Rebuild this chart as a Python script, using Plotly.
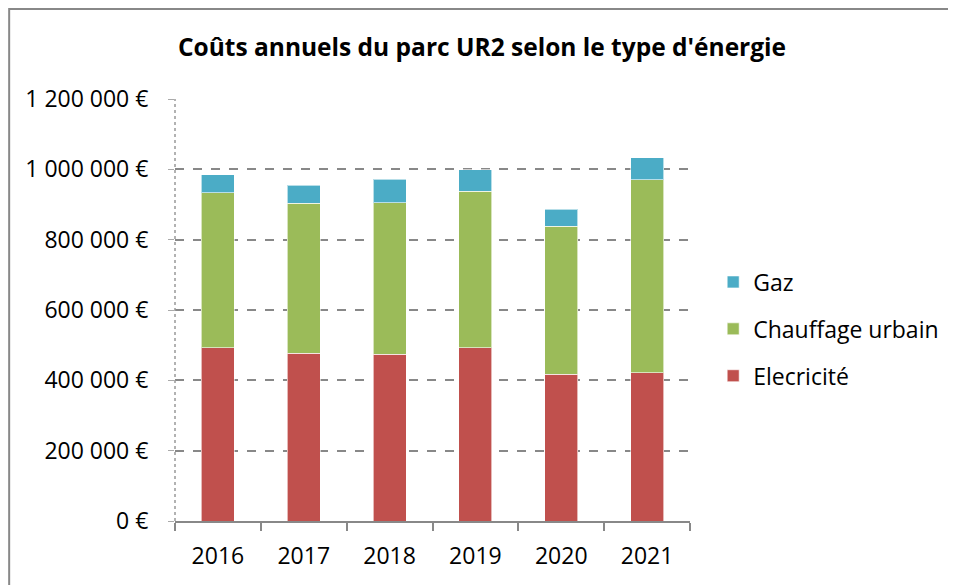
import plotly.graph_objects as go

# annual costs per energy type (EUR)
years = ['2016', '2017', '2018', '2019', '2020', '2021']
electricite = [492000, 477000, 474000, 492000, 418000, 422000]
chauffage = [442000, 426000, 431000, 445000, 420000, 549000]
gaz = [51000, 52000, 67000, 62000, 48000, 62000]

ytick_vals = [0, 200000, 400000, 600000, 800000, 1000000, 1200000]
ytick_text = ['0 €', '200 000 €', '400 000 €', '600 000 €', '800 000 €', '1 000 000 €', '1 200 000 €']

font = 'Open Sans, Carlito, Calibri, sans-serif'
edge = dict(width=1, color='rgba(255,255,255,0.6)')

fig = go.Figure()
fig.add_trace(go.Bar(x=years, y=electricite, name='Elecricité', marker=dict(color='#C0504D', line=edge),
                     legendgroup='e', legendrank=3))
fig.add_trace(go.Bar(x=years, y=chauffage, name='Chauffage urbain', marker=dict(color='#9BBB59', line=edge),
                     legendgroup='c', legendrank=2))
fig.add_trace(go.Bar(x=years, y=gaz, name='Gaz', marker=dict(color='#4BACC6', line=edge),
                     legendgroup='g', legendrank=1))

# outer chart border (page is offset by the 8px body margin)
fig.add_shape(type='rect', xref='paper', yref='paper', x0=-0.322, x1=1.8, y0=-0.3, y1=1.213,
              line=dict(color='#888888', width=2), layer='below')
# dotted value axis line
fig.add_shape(type='line', xref='paper', yref='y', x0=0, x1=0, y0=0, y1=1200000,
              line=dict(color='#999999', width=1.5, dash='dot'))

fig.update_layout(
    width=948, height=577,
    margin=dict(l=167, r=266, t=91, b=64),
    paper_bgcolor='white', plot_bgcolor='white',
    barmode='stack', bargap=0.615,
    font=dict(family=font, size=23, color='black'),
    title=dict(text="<b>Coûts annuels du parc UR2 selon le type d'énergie</b>",
               x=0.5, xanchor='center', xref='container', y=0.931, yanchor='middle',
               font=dict(family=font, size=24.5, color='black')),
    legend=dict(x=1.045, y=0.455, xanchor='left', yanchor='middle',
                traceorder='grouped', tracegroupgap=14,
                font=dict(family=font, size=23, color='black')),
    xaxis=dict(range=[-0.5, 5.5], showline=True, linecolor='#888888', linewidth=2,
               ticks='outside', tickson='boundaries', ticklen=8, tickcolor='#888888', tickwidth=2,
               showgrid=False, ticklabelstandoff=13),
    yaxis=dict(range=[0, 1200000], tickvals=ytick_vals, ticktext=ytick_text,
               showgrid=True, gridcolor='#888888', gridwidth=2, griddash='dash',
               ticks='outside', ticklen=6, tickcolor='#aaaaaa', tickwidth=1,
               zeroline=False, showline=False, ticklabelstandoff=15),
)

fig.write_html("out.html")
